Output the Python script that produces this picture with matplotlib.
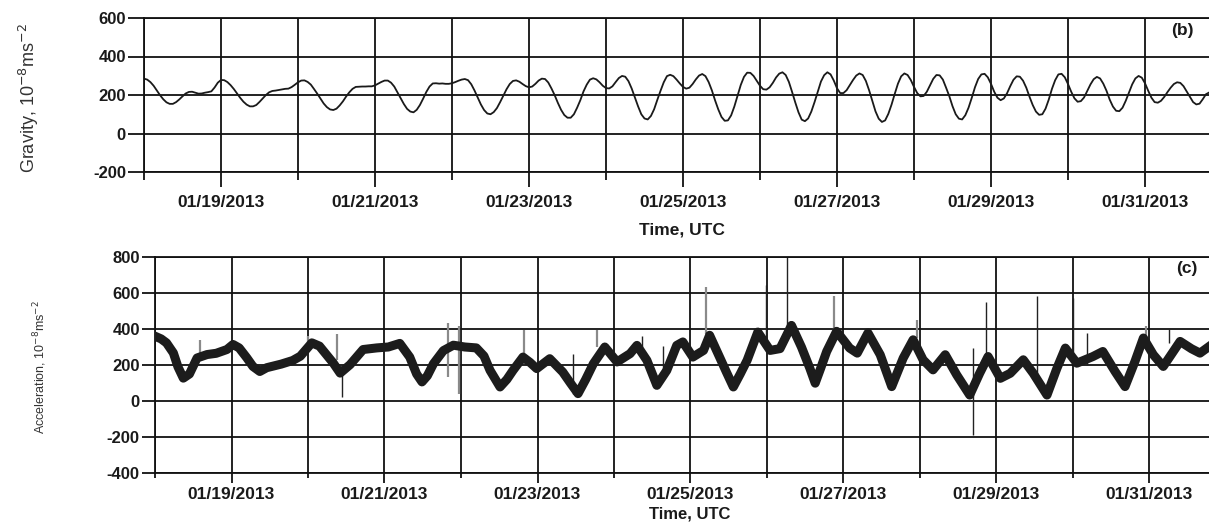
import datetime as dt
import matplotlib
import matplotlib.pyplot as plt
from matplotlib.ticker import FixedLocator, FuncFormatter

matplotlib.use("Agg")

plt.rcParams["font.family"] = ["Liberation Sans", "DejaVu Sans"]
plt.rcParams["axes.unicode_minus"] = False

START = dt.date(2013, 1, 18)  # day 0 = 01/18/2013 00:00 UTC
N_DAYS = 14

# (b) gravity, 10^-8 ms^-2, one value per hour from 01/18 00:00 UTC (one row per day)
GRAVITY = [
    285, 280, 267, 248, 224, 199, 178, 162, 154, 154, 163, 177, 193, 208, 216, 217, 212, 207, 208, 212, 215, 219, 239, 264,
    278, 277, 267, 251, 231, 208, 185, 165, 150, 141, 141, 148, 164, 182, 200, 214, 221, 223, 226, 229, 232, 233, 241, 253,
    266, 275, 276, 268, 254, 231, 207, 181, 156, 137, 125, 122, 129, 146, 167, 192, 214, 232, 242, 243, 244, 244, 245, 245,
    250, 259, 268, 275, 275, 264, 244, 214, 183, 153, 128, 114, 110, 123, 148, 181, 216, 244, 260, 261, 259, 260, 258, 258,
    261, 267, 274, 280, 283, 277, 256, 224, 188, 151, 122, 104, 100, 111, 132, 163, 197, 230, 257, 273, 276, 269, 257, 246,
    240, 244, 258, 275, 285, 283, 265, 234, 199, 159, 123, 96, 82, 82, 100, 134, 173, 219, 254, 280, 287, 281, 266, 248,
    236, 234, 245, 267, 288, 299, 295, 272, 234, 187, 141, 100, 78, 73, 91, 126, 175, 222, 266, 298, 305, 298, 280, 260,
    242, 233, 238, 257, 281, 301, 309, 298, 267, 224, 172, 125, 86, 66, 68, 94, 140, 196, 252, 294, 316, 315, 299, 274,
    248, 230, 228, 240, 263, 291, 311, 318, 304, 268, 216, 161, 110, 72, 64, 78, 114, 163, 216, 270, 303, 318, 307, 275,
    235, 210, 210, 225, 251, 278, 301, 312, 304, 273, 225, 170, 115, 77, 60, 68, 102, 150, 206, 259, 297, 312, 304, 278,
    242, 210, 193, 195, 217, 251, 284, 304, 302, 280, 238, 194, 142, 100, 77, 73, 95, 134, 185, 240, 283, 307, 310, 292,
    258, 217, 186, 173, 182, 209, 246, 279, 297, 295, 274, 238, 191, 148, 114, 97, 100, 129, 176, 232, 277, 307, 310, 292,
    257, 217, 183, 165, 168, 187, 221, 255, 282, 294, 286, 259, 222, 176, 140, 118, 116, 134, 170, 212, 255, 286, 299, 290,
    261, 222, 186, 163, 160, 170, 190, 215, 238, 257, 266, 263, 246, 218, 189, 163, 151, 155, 178, 204, 213,
]
GRAV_STEP_H = 1

# (c) acceleration trace, days since 01/18 and 10^-8 ms^-2
ACC_T = [0.00, 0.08, 0.15, 0.24, 0.30, 0.37, 0.45, 0.55, 0.68, 0.80, 0.94,
         1.02, 1.10, 1.20, 1.28, 1.37, 1.46, 1.65, 1.80, 1.90, 2.05, 2.15,
         2.33, 2.42, 2.55, 2.72, 2.90, 3.05, 3.20, 3.33, 3.42, 3.49, 3.56,
         3.64, 3.77, 3.90, 4.05, 4.20, 4.30, 4.38, 4.51, 4.60, 4.68, 4.81,
         4.90, 4.99, 5.16, 5.33, 5.43, 5.53, 5.63, 5.73, 5.88, 6.04, 6.21,
         6.30, 6.43, 6.56, 6.69, 6.82, 6.90, 7.03, 7.17, 7.25, 7.38, 7.47,
         7.56, 7.65, 7.74, 7.88, 8.04, 8.17, 8.32, 8.45, 8.56, 8.63, 8.70,
         8.78, 8.91, 9.08, 9.18, 9.32, 9.48, 9.63, 9.78, 9.91, 10.04, 10.17,
         10.33, 10.48, 10.65, 10.78, 10.89, 11.05, 11.18, 11.35, 11.48,
         11.66, 11.79, 11.90, 12.05, 12.26, 12.39, 12.55, 12.68, 12.81,
         12.92, 13.05, 13.18, 13.40, 13.55, 13.66, 13.78]
ACC_V = [360, 345, 323, 267, 190, 127, 150, 239, 258, 265, 286,
         314, 295, 240, 192, 164, 185, 205, 225, 249, 323, 305,
         211, 155, 202, 286, 295, 300, 320, 244, 150, 106, 140,
         207, 280, 310, 300, 295, 250, 170, 78, 120, 170, 244,
         215, 180, 235, 161, 100, 41, 120, 207, 300, 217, 263,
         309, 226, 87, 170, 309, 328, 244, 281, 365, 244, 160,
         78, 150, 226, 383, 281, 291, 420, 300, 182, 99, 180,
         275, 387, 294, 266, 378, 257, 80, 238, 340, 229, 173,
         257, 145, 33, 154, 247, 126, 154, 229, 154,
         33, 182, 294, 210, 247, 275, 164, 80, 220,
         350, 257, 192, 331, 290, 266, 303]

# spikes in (c): time, low end, high end, dark (1) or grey (0)
SPIKE_T = [0.59, 2.00, 2.38, 2.45, 3.83, 3.98, 4.82, 5.46, 5.78, 6.36, 6.64,
           7.20, 7.99, 8.26, 8.87, 9.96, 10.69, 10.86, 11.53, 12.00, 12.18,
           12.96, 13.25]
SPIKE_LO = [260, 290, 230, 22, 133, 41, 244, 41, 300, 300, 150,
            374, 300, 355, 368, 350, -190, 257, 145, 275, 200,
            300, 320]
SPIKE_HI = [340, 360, 370, 160, 433, 415, 393, 263, 393, 359, 304,
            633, 643, 800, 582, 452, 294, 549, 582, 573, 378,
            415, 402]
SPIKE_DARK = [0, 0, 0, 1, 0, 0, 0, 1, 0, 1, 1,
              0, 1, 1, 0, 0, 1, 1, 1, 1, 1,
              0, 1]

W, H = 1209, 524
fig = plt.figure(figsize=(W / 100, H / 100), dpi=100)


def day_label(d, pos=None):
    return (START + dt.timedelta(days=int(round(d)))).strftime("%m/%d/%Y")


def setup(ax, ylo, yhi, xmax, ylen, majlen, minlen, xpad):
    ax.set_xlim(0, xmax)
    ax.set_ylim(ylo, yhi)
    ax.set_yticks(range(ylo, yhi + 1, 200))
    ax.yaxis.set_major_formatter(FuncFormatter(lambda v, p: str(int(v))))
    ax.xaxis.set_major_locator(FixedLocator(range(1, N_DAYS, 2)))
    ax.xaxis.set_minor_locator(FixedLocator(range(0, N_DAYS + 1, 2)))
    ax.xaxis.set_major_formatter(FuncFormatter(day_label))
    ax.set_axisbelow(True)
    ax.grid(True, which="both", axis="x", color="#111111", lw=1.3)
    ax.grid(True, which="major", axis="y", color="#111111", lw=1.3)
    ax.spines["right"].set_visible(False)
    for s in ["left", "top", "bottom"]:
        ax.spines[s].set_linewidth(1.3)
        ax.spines[s].set_color("#111111")
    ax.tick_params(axis="y", length=ylen, width=1.3, pad=1.5,
                   labelsize=12, color="#111111")
    ax.tick_params(axis="x", which="major", length=majlen, width=1.3,
                   pad=xpad, labelsize=12.5, color="#111111")
    ax.tick_params(axis="x", which="minor", length=minlen, width=1.3,
                   color="#111111")
    for lab in ax.get_xticklabels() + ax.get_yticklabels():
        lab.set_fontweight("bold")
        lab.set_color("#1a1a1a")


# (b) gravity
ax1 = fig.add_axes([144 / W, 1 - 172 / H, (W - 144) / W, 154 / H])
grav_t = [i * GRAV_STEP_H / 24 for i in range(len(GRAVITY))]
ax1.plot(grav_t, GRAVITY, color="#1a1a1a", lw=1.3)
setup(ax1, -200, 600, (W - 144) / 77.0, 11.5, 10.8, 5.8, 6)

# (c) acceleration
ax2 = fig.add_axes([155 / W, 1 - 473 / H, (W - 155) / W, 216 / H])
for t, lo, hi, dark in zip(SPIKE_T, SPIKE_LO, SPIKE_HI, SPIKE_DARK):
    ax2.vlines(t, lo, hi, color="#222222" if dark else "#8a8a8a",
               lw=1.0 if dark else 1.6, zorder=2)
ax2.plot(ACC_T, ACC_V, color="#1c1c1c", lw=6.5, solid_joinstyle="round",
         zorder=3)
setup(ax2, -400, 800, (W - 155) / 76.5, 9.4, 7.2, 3.6, 3)

fig.text(682 / W, 1 - 230 / H, "Time, UTC", ha="center", va="center",
         fontsize=12.5, fontweight="bold", color="#1a1a1a")
fig.text(690 / W, 1 - 514 / H, "Time, UTC", ha="center", va="center",
         fontsize=12, fontweight="bold", color="#1a1a1a")
fig.text(29 / W, 1 - 98 / H, "Gravity, 10$^{-8}$ms$^{-2}$", rotation=90,
         ha="center", va="center", fontsize=13, color="#333333")
fig.text(40 / W, 1 - 367 / H, "Acceleration, 10$^{-8}$ms$^{-2}$",
         rotation=90, ha="center", va="center", fontsize=9, color="#333333")
fig.text(1182 / W, 1 - 31 / H, "(b)", ha="center", va="center",
         fontsize=12.5, fontweight="bold", color="#1a1a1a")
fig.text(1187 / W, 1 - 269 / H, "(c)", ha="center", va="center",
         fontsize=12.5, fontweight="bold", color="#1a1a1a")

fig.savefig("out.png", dpi=100)
plt.close(fig)
